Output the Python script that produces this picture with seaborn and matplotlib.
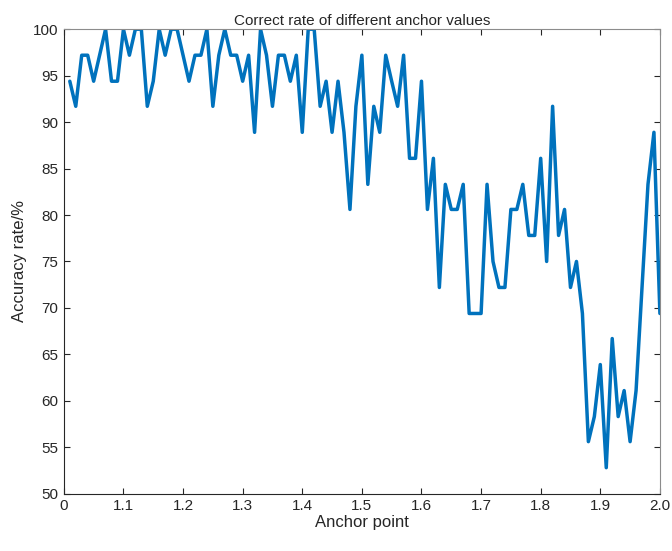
import numpy as np
import pandas as pd
import seaborn as sns
import matplotlib
matplotlib.use("Agg")
import matplotlib.pyplot as plt

# Anchor points 1.01 ... 2.00
anchor = [round(1.0 + 0.01 * i, 2) for i in range(1, 101)]
accuracy = [
    94.4, 91.7, 97.2, 97.2, 94.4, 97.2, 100, 94.4, 94.4, 100,
    97.2, 100, 100, 91.7, 94.4, 100, 97.2, 100, 100, 97.2,
    94.4, 97.2, 97.2, 100, 91.7, 97.2, 100, 97.2, 97.2, 94.4,
    97.2, 88.9, 100, 97.2, 91.7, 97.2, 97.2, 94.4, 97.2, 88.9,
    100, 100, 91.7, 94.4, 88.9, 94.4, 88.9, 80.6, 91.7, 97.2,
    83.3, 91.7, 88.9, 97.2, 94.4, 91.7, 97.2, 86.1, 86.1, 94.4,
    80.6, 86.1, 72.2, 83.3, 80.6, 80.6, 83.3, 69.4, 69.4, 69.4,
    83.3, 75.0, 72.2, 72.2, 80.6, 80.6, 83.3, 77.8, 77.8, 86.1,
    75.0, 91.7, 77.8, 80.6, 72.2, 75.0, 69.4, 55.6, 58.3, 63.9,
    52.8, 66.7, 58.3, 61.1, 55.6, 61.1, 72.2, 83.3, 88.9, 69.4,
]
xticks = [1.0, 1.1, 1.2, 1.3, 1.4, 1.5, 1.6, 1.7, 1.8, 1.9, 2.0]
xticklabels = ["0", "1.1", "1.2", "1.3", "1.4", "1.5", "1.6", "1.7", "1.8", "1.9", "2.0"]
yticks = [50, 55, 60, 65, 70, 75, 80, 85, 90, 95, 100]

df = pd.DataFrame({"Anchor point": anchor, "Accuracy": accuracy})

sns.set_style("ticks")
plt.rcParams["font.family"] = ["Liberation Sans", "DejaVu Sans"]

fig = plt.figure(figsize=(6.72, 5.51), dpi=100)
ax = fig.add_axes([0.095, 0.104, 0.887, 0.843])

sns.lineplot(data=df, x="Anchor point", y="Accuracy", ax=ax,
             color="#0072BD", linewidth=2.5)

ax.set_xlim(1.0, 2.0)
ax.set_ylim(50, 100)
ax.set_xticks(xticks)
ax.set_xticklabels(xticklabels)
ax.set_yticks(yticks)
ax.tick_params(direction="in", length=4, width=0.8, top=True, right=True,
               labelsize=11, colors="#262626", pad=4)
for s in ax.spines.values():
    s.set_visible(True)
    s.set_color("#262626")
    s.set_linewidth(0.8)
ax.spines["top"].set_color("#8c8c8c")
ax.spines["right"].set_color("#8c8c8c")

ax.set_xlabel("Anchor point", fontsize=12, color="#262626", labelpad=1)
ax.set_ylabel("Accuracy rate/%", fontsize=12, color="#262626", labelpad=4)
ax.set_title("Correct rate of different anchor values", fontsize=11,
             color="#262626", pad=3)

fig.savefig("out.png", dpi=100)
